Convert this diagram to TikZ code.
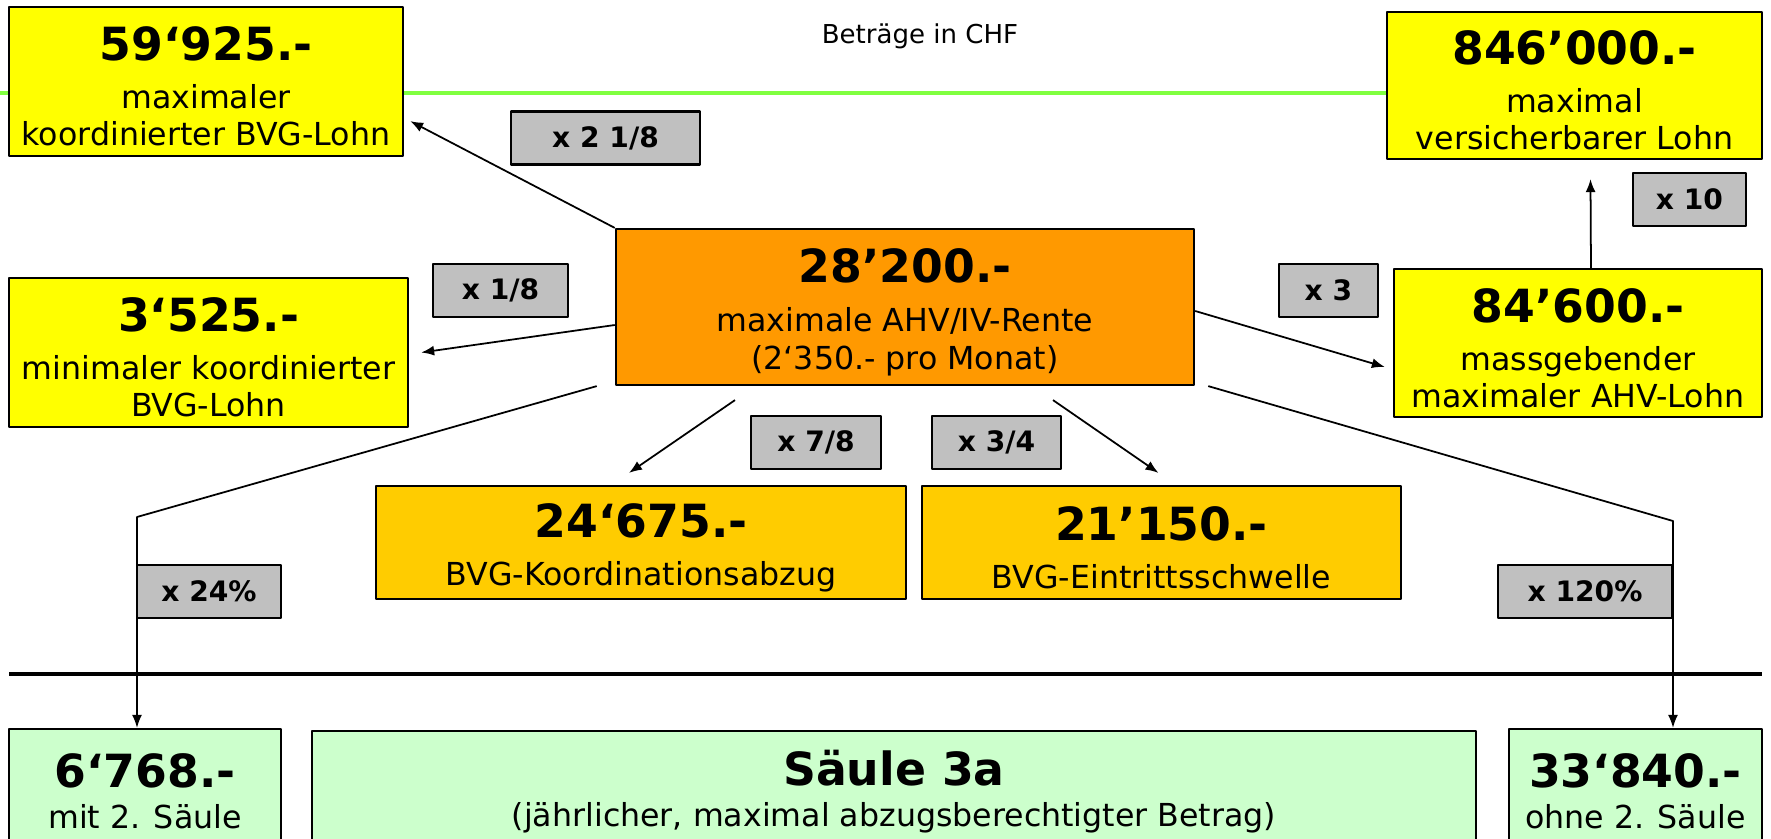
\documentclass[tikz,border=0pt]{standalone}
\usepackage{fontspec}
\setmainfont{DejaVu Sans}
\usetikzlibrary{arrows.meta,calc}
\definecolor{gelb}{HTML}{FFFF00}
\definecolor{orange}{HTML}{FF9900}
\definecolor{gold}{HTML}{FFCC00}
\definecolor{mint}{HTML}{CCFFCC}
\definecolor{grau}{HTML}{C0C0C0}
\definecolor{hellgruen}{HTML}{80FF40}
\newcommand\betrag[1]{{\fontsize{13}{15}\selectfont\bfseries\rule{0pt}{12.5pt}#1}}
\begin{document}
\begin{tikzpicture}[x=0.01cm, y=-0.01cm, >={Latex[length=1.3mm,width=1mm]}, line join=round,
  box/.style={draw, line width=0.6pt, inner sep=0pt, align=center, font=\fontsize{9}{10.6}\selectfont},
  faktor/.style={draw, fill=grau, line width=0.6pt, inner sep=0pt, minimum height=0.53cm, font=\fontsize{8}{9}\selectfont\bfseries},
  pfeil/.style={->, line width=0.5pt}]
\useasboundingbox (0,0) rectangle (1771,839);
\draw[hellgruen, line width=0.9pt] (0,93) -- (1387,93);
\node (titel) at (920,36) {\fontsize{7.4}{9}\selectfont Beträge in CHF};
% obere Reihe
\node[box, fill=gelb, minimum width=3.94cm, minimum height=1.49cm] (maxkoord) at (206,81.5) {\betrag{59‘925.-}\\[3pt] maximaler\\ koordinierter BVG-Lohn};
\node[box, fill=gelb, minimum width=3.75cm, minimum height=1.47cm] (maxvers) at (1574.5,85.5) {\betrag{846’000.-}\\[3pt] maximal\\ versicherbarer Lohn};
\node[box, fill=orange, minimum width=5.78cm, minimum height=1.56cm] (ahv) at (905,307) {\betrag{28’200.-}\\[3.5pt] maximale AHV/IV-Rente\\ (2‘350.- pro Monat)};
\node[box, fill=gelb, minimum width=3.99cm, minimum height=1.49cm] (minkoord) at (208.5,352.5) {\betrag{3‘525.-}\\[3pt] minimaler koordinierter\\ BVG-Lohn};
\node[box, fill=gelb, minimum width=3.68cm, minimum height=1.48cm] (ahvlohn) at (1578,343) {\betrag{84’600.-}\\[3pt] massgebender\\ maximaler AHV-Lohn};
\node[box, fill=gold, minimum width=5.30cm, minimum height=1.13cm] (koordabzug) at (641,542.5) {\betrag{24‘675.-}\\[3pt] BVG-Koordinationsabzug};
\node[box, fill=gold, minimum width=4.79cm, minimum height=1.13cm] (eintritt) at (1161.5,542.5) {\betrag{21’150.-}\\[3pt] BVG-Eintrittsschwelle};
% Faktoren
\node[faktor, minimum width=1.89cm] (f218) at (605.5,138) {x 2 1/8};
\node[faktor, minimum width=1.13cm] (f10) at (1689.5,199.5) {x 10};
\node[faktor, minimum width=1.35cm] (f18) at (500.5,290.5) {x 1/8};
\node[faktor, minimum width=0.99cm] (f3) at (1328.5,290.5) {x 3};
\node[faktor, minimum width=1.30cm] (f78) at (816,442.5) {x 7/8};
\node[faktor, minimum width=1.29cm] (f34) at (996.5,442.5) {x 3/4};
\node[faktor, minimum width=1.44cm] (f24) at (209,591.5) {x 24\%};
\node[faktor, minimum width=1.74cm] (f120) at (1585,591.5) {x 120\%};
% Säule 3a
\draw[line width=0.9pt] (9,674) -- (1762,674);
\node[box, fill=mint, minimum width=2.72cm, minimum height=1.14cm] (mit2) at (145,786) {\betrag{6‘768.-}\\[1pt] mit 2. Säule};
\node[box, fill=mint, minimum width=11.64cm, minimum height=1.12cm] (saeule3a) at (894,787) {\betrag{Säule 3a}\\[1pt] (jährlicher, maximal abzugsberechtigter Betrag)};
\node[box, fill=mint, minimum width=2.53cm, minimum height=1.14cm] (ohne2) at (1635.5,786) {\betrag{33‘840.-}\\[1pt] ohne 2. Säule};
% Pfeile
\coordinate (knick24) at (137,517);
\coordinate (knick120) at (1673,521);
\draw[pfeil] (ahv.north west) -- ($(maxkoord.south east)+(6,-36)$);
\draw[pfeil] ($(ahv.west)+(0,18)$) -- ($(minkoord.east)+(12,0)$);
\draw[pfeil] ($(ahv.east)+(0,4)$) -- ($(ahvlohn.west)+(-8,24)$);
\draw[pfeil] ($(ahvlohn.north)+(13,0)$) -- ($(maxvers.south)+(16,19)$);
\draw[pfeil] ($(ahv.south)+(-170,14)$) -- ($(koordabzug.north)+(-12,-12)$);
\draw[pfeil] ($(ahv.south)+(148,14)$) -- ($(eintritt.north)+(-3,-12)$);
\draw[pfeil] ($(ahv.south west)+(-18,0)$) -- (knick24) -- (knick24 |- mit2.north);
\draw[pfeil] ($(ahv.south east)+(13,0)$) -- (knick120) -- (knick120 |- ohne2.north);
\end{tikzpicture}
\end{document}
